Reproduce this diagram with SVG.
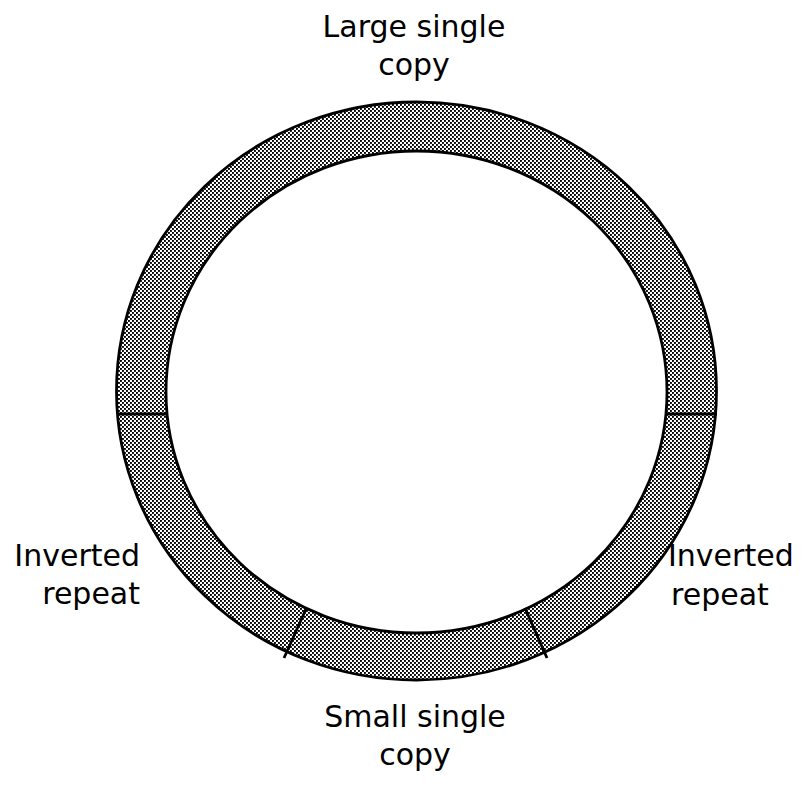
<svg xmlns="http://www.w3.org/2000/svg" width="806" height="792" viewBox="0 0 806 792">
  <defs>
    <pattern id="dots" width="4" height="4" patternUnits="userSpaceOnUse">
      <rect x="0" y="0" width="1.9" height="1.9" fill="#000"/>
      <rect x="2" y="2" width="1.9" height="1.9" fill="#000"/>
    </pattern>
  </defs>
  <style>
    .lbl { font-family: "DejaVu Sans", "Liberation Sans", sans-serif; font-size: 30px; fill: #000; }
    .ln { stroke: #000; stroke-width: 2.8; fill: none; }
  </style>
  <rect width="806" height="792" fill="#fff"/>
  <g id="ring">
    <path d="M116.5,391 A300,289 0 1,0 716.5,391 A300,289 0 1,0 116.5,391 Z M166,392 A250.5,241 0 1,1 667,392 A250.5,241 0 1,1 166,392 Z" fill="url(#dots)" fill-rule="evenodd"/>
    <ellipse class="ln" cx="416.5" cy="391" rx="300" ry="289" stroke-width="3.2"/>
    <ellipse class="ln" cx="416.5" cy="392" rx="250.5" ry="241"/>
  </g>
  <g id="connectors">
    <line class="ln" x1="117" y1="414" x2="166" y2="414"/>
    <line class="ln" x1="667" y1="414" x2="717" y2="414"/>
    <line class="ln" x1="306" y1="609" x2="284" y2="658"/>
    <line class="ln" x1="525" y1="608" x2="547" y2="658"/>
  </g>
  <g id="lsc">
    <text class="lbl" x="414" y="37" text-anchor="middle">Large single</text>
    <text class="lbl" x="414" y="75" text-anchor="middle">copy</text>
  </g>
  <g id="ssc">
    <text class="lbl" x="415" y="727" text-anchor="middle">Small single</text>
    <text class="lbl" x="415" y="765" text-anchor="middle">copy</text>
  </g>
  <g id="ir-left">
    <text class="lbl" x="140" y="566" text-anchor="end">Inverted</text>
    <text class="lbl" x="140" y="604" text-anchor="end">repeat</text>
  </g>
  <g id="ir-right">
    <text class="lbl" x="668" y="566">Inverted</text>
    <text class="lbl" x="671" y="605">repeat</text>
  </g>
</svg>
